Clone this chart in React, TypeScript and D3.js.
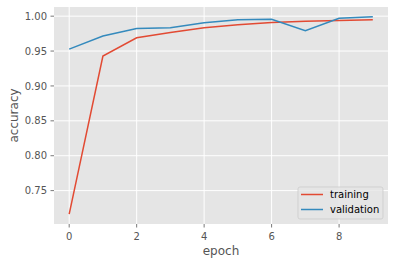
import React from "react";
import * as d3 from "d3";

const epochs = [0, 1, 2, 3, 4, 5, 6, 7, 8, 9];
const training = [0.7163, 0.9429, 0.969, 0.9766, 0.9833, 0.9876, 0.9909, 0.9926, 0.9939, 0.995];
const validation = [0.9527, 0.9716, 0.9822, 0.9835, 0.9905, 0.9947, 0.9955, 0.979, 0.9969, 0.999];
const xTicks = [0, 2, 4, 6, 8];
const yTicks = [0.75, 0.8, 0.85, 0.9, 0.95, 1.0];
const seriesNames = ["training", "validation"];
const colors = ["#E24A33", "#348ABD"];

const W = 395, H = 265;
const L = 54, T = 7, R = 388, B = 224;
const FONT = "DejaVu Sans, sans-serif";

export default function App() {
  const all = [...training, ...validation];
  const ymin = d3.min(all)!, ymax = d3.max(all)!;
  const ypad = (ymax - ymin) * 0.05;
  const x = d3.scaleLinear().domain([-0.45, 9.45]).range([L, R]);
  const y = d3.scaleLinear().domain([ymin - ypad, ymax + ypad]).range([B, T]);
  const line = d3.line<number>().x((_, i) => x(epochs[i])).y((d) => y(d));
  const series = [training, validation];

  const lx = 298, ly = 187, lw = 85, lh = 32;

  return (
    <svg width={W} height={H} style={{ position: "fixed", left: 0, top: 0, background: "#fff" }} fontFamily={FONT}>
      <rect x={L} y={T} width={R - L} height={B - T} fill="#E5E5E5" />
      {xTicks.map((t) => (
        <line key={"gx" + t} x1={x(t)} x2={x(t)} y1={T} y2={B} stroke="#fff" strokeWidth={1} />
      ))}
      {yTicks.map((t) => (
        <line key={"gy" + t} x1={L} x2={R} y1={y(t)} y2={y(t)} stroke="#fff" strokeWidth={1} />
      ))}
      {xTicks.map((t) => (
        <g key={"tx" + t}>
          <line x1={x(t)} x2={x(t)} y1={B} y2={B + 3.5} stroke="#555555" strokeWidth={0.8} />
          <text x={x(t)} y={240} textAnchor="middle" fontSize={10} fill="#555555">{t}</text>
        </g>
      ))}
      {yTicks.map((t) => (
        <g key={"ty" + t}>
          <line x1={L - 3.5} x2={L} y1={y(t)} y2={y(t)} stroke="#555555" strokeWidth={0.8} />
          <text x={L - 7} y={y(t)} dy="0.36em" textAnchor="end" fontSize={10} fill="#555555">{t.toFixed(2)}</text>
        </g>
      ))}
      {series.map((s, i) => (
        <path key={seriesNames[i]} d={line(s)!} fill="none" stroke={colors[i]} strokeWidth={1.5} />
      ))}
      <text x={(L + R) / 2} y={255} textAnchor="middle" fontSize={12} fill="#555555">epoch</text>
      <text transform={`translate(18,${(T + B) / 2}) rotate(-90)`} textAnchor="middle" fontSize={12} fill="#555555">accuracy</text>
      <rect x={lx} y={ly} width={lw} height={lh} rx={2} fill="#E5E5E5" fillOpacity={0.8} stroke="#CCCCCC" strokeOpacity={0.8} strokeWidth={1} />
      {seriesNames.map((n, i) => (
        <g key={"lg" + n}>
          <line x1={301} x2={323} y1={194.5 + i * 15} y2={194.5 + i * 15} stroke={colors[i]} strokeWidth={1.5} />
          <text x={330} y={194.5 + i * 15} dy="0.36em" fontSize={10} fill="#000">{n}</text>
        </g>
      ))}
    </svg>
  );
}
